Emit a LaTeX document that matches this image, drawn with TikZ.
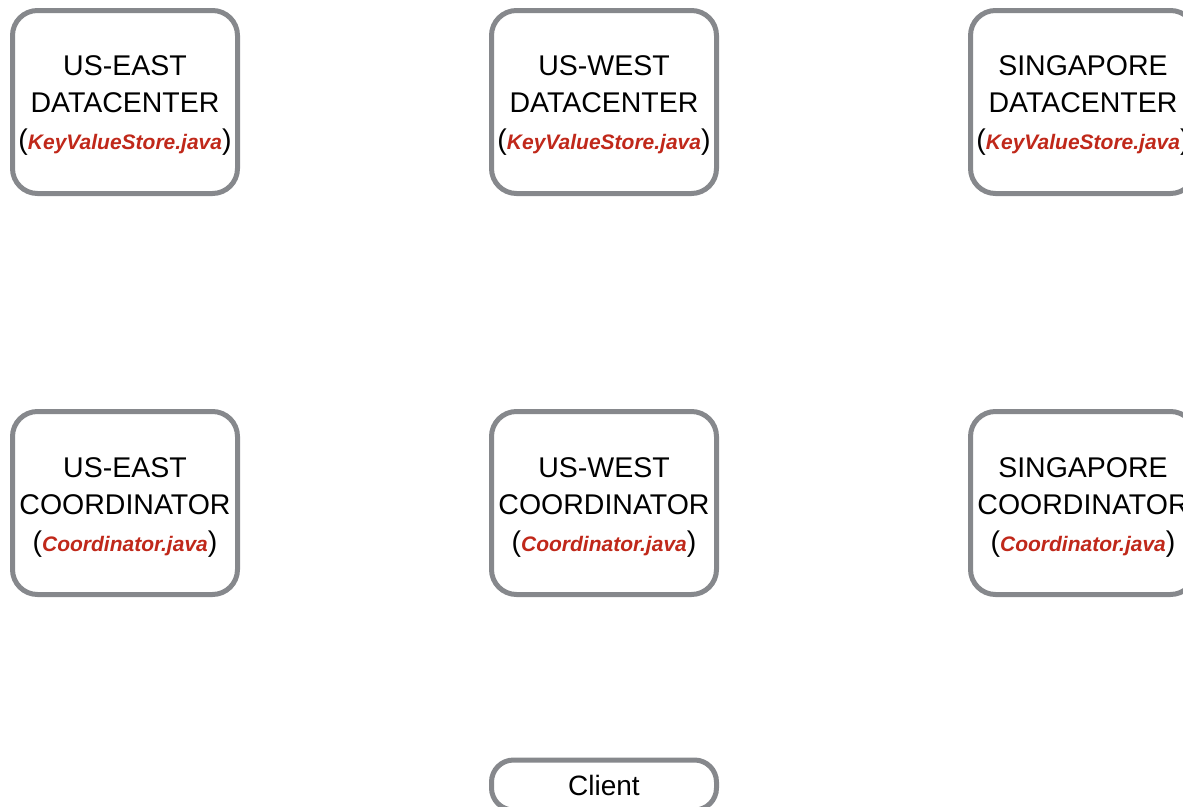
\documentclass[tikz,border=0pt]{standalone}
\usepackage{fontspec}
\setmainfont{Liberation Sans}
\definecolor{boxgray}{HTML}{86888C}
\definecolor{javared}{HTML}{C0281A}
\newcommand{\javafile}[1]{(\textcolor{javared}{\fontsize{21}{37}\selectfont\bfseries\itshape #1})}
\begin{document}
\begin{tikzpicture}[x=1pt,y=-1pt,
  server/.style={draw=boxgray, line width=5pt, fill=white, rounded corners=25pt,
    minimum width=225pt, minimum height=183pt, inner sep=0pt, outer sep=0pt},
  servertext/.style={align=center, inner sep=0pt, font=\fontsize{28.5}{37}\selectfont},
  clientbox/.style={draw=boxgray, line width=5pt, fill=white, rounded corners=22pt,
    minimum width=225pt, minimum height=50pt, inner sep=0pt, outer sep=0pt,
    font=\fontsize{28}{37}\selectfont}]
\useasboundingbox (0,0) rectangle (1183,806);
\clip (0,0) rectangle (1183,806);
% datacenter row
\node[server] (dcEast) at (125,102) {};
\node[server] (dcWest) at (604,102) {};
\node[server] (dcSing) at (1083,102) {};
\node[servertext] (dcEastTxt) at ([yshift=-3.5pt]dcEast.center) {US-EAST\\DATACENTER\\\javafile{KeyValueStore.java}};
\node[servertext] (dcWestTxt) at ([yshift=-3.5pt]dcWest.center) {US-WEST\\DATACENTER\\\javafile{KeyValueStore.java}};
\node[servertext] (dcSingTxt) at ([yshift=-3.5pt]dcSing.center) {SINGAPORE\\DATACENTER\\\javafile{KeyValueStore.java}};
% coordinator row
\node[server] (coEast) at (125,503) {};
\node[server] (coWest) at (604,503) {};
\node[server] (coSing) at (1083,503) {};
\node[servertext] (coEastTxt) at ([yshift=-4pt]coEast.center) {US-EAST\\COORDINATOR\\\javafile{Coordinator.java}};
\node[servertext] (coWestTxt) at ([yshift=-4pt]coWest.center) {US-WEST\\COORDINATOR\\\javafile{Coordinator.java}};
\node[servertext] (coSingTxt) at ([yshift=-4pt]coSing.center) {SINGAPORE\\COORDINATOR\\\javafile{Coordinator.java}};
% client
\node[clientbox] (client) at (604,785) {Client};
\end{tikzpicture}
\end{document}
